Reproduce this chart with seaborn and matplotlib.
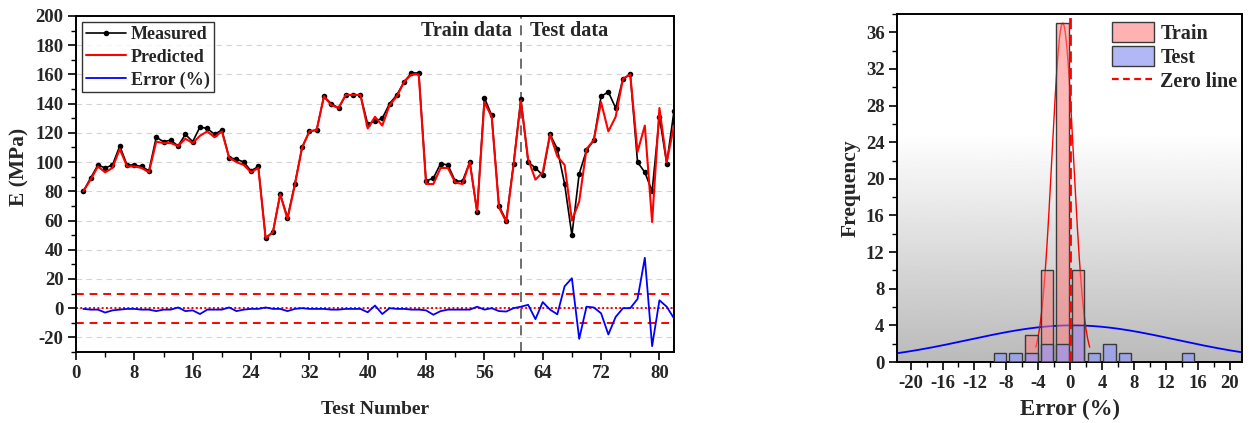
import numpy as np
import pandas as pd
import matplotlib
matplotlib.use("Agg")
import matplotlib.pyplot as plt
import seaborn as sns
from matplotlib.lines import Line2D
from matplotlib.patches import Patch
from matplotlib.ticker import MultipleLocator

sns.set_theme(style="white")
plt.rcParams['font.family'] = ['Liberation Serif', 'DejaVu Serif']
plt.rcParams['font.weight'] = 'bold'
plt.rcParams['axes.labelweight'] = 'bold'
plt.rcParams['axes.unicode_minus'] = False

# ---- test-by-test results -------------------------------------------------
test_number = list(range(1, 83))
measured = [80, 89, 98, 96, 98, 111, 98, 98, 97, 94,
            117, 114, 115, 111, 119, 114, 124, 123, 119, 122,
            103, 102, 100, 94, 97, 48, 52, 78, 62, 85,
            110, 121, 122, 145, 140, 137, 146, 146, 146, 126,
            128, 130, 140, 146, 155, 161, 161, 87, 89, 99,
            98, 87, 87, 100, 66, 144, 132, 70, 60, 99,
            143, 100, 96, 91, 119, 109, 85, 50, 92, 108,
            115, 145, 148, 137, 157, 160, 100, 93, 80, 131,
            99, 135]
predicted = [80, 88, 97, 93, 96, 109, 97, 97, 96, 93,
             114, 113, 113, 111, 116, 113, 118, 121, 117, 121,
             103, 100, 98, 93, 96, 48, 52, 78, 61, 84,
             110, 121, 122, 145, 139, 137, 146, 146, 146, 123,
             131, 125, 139, 145, 155, 160, 160, 85, 85, 96,
             96, 86, 85, 100, 66, 141, 131, 69, 59, 98,
             142, 102, 88, 93, 119, 104, 98, 60, 73, 109,
             115, 141, 121, 131, 157, 160, 107, 125, 59, 137,
             100, 125]
error_pct = [-0.5, -1, -1, -3, -1.5, -1, -0.5, -0.5, -1, -1,
             -2, -1, -1, 0.5, -2, -1.5, -4, -1, -1, -1,
             0.5, -2, -1, -0.5, -0.5, 0.5, -0.5, -0.5, -2, -0.5,
             0, -0.5, -0.5, -0.5, -1, -1, -0.5, -0.5, -0.5, -2.8,
             1.8, -4, 0, -0.5, -0.5, -1, -1, -1.5, -4.5, -2,
             -1, -1, -1, -1, 1, -1, 0, -2, -2.3, 0,
             1, 2.3, -7.5, 4.2, -1, -4.2, 15, 20.5, -21, 1,
             0.5, -3.5, -18, -6, 0, 0, 6.3, 34.5, -26, 5.4,
             1, -7]
split_at = 61          # first test-set sample
error_band = 10        # +/- tolerance lines (%)

# ---- error histogram ------------------------------------------------------
bin_centers = [-8.8, -6.84, -4.88, -2.92, -0.96, 1.0, 2.96, 4.92, 6.88,
               8.84, 10.8, 12.76, 14.72]
train_counts = [0, 0, 3, 10, 37, 10, 0, 0, 0, 0, 0, 0, 0]
test_counts = [1, 1, 1, 2, 2, 4, 1, 2, 1, 0, 0, 0, 1]
bin_width = 1.96
train_fit = {"mean": -0.95, "sd": 1.35}
test_fit = {"mean": 0.3, "sd": 13.0}

df = pd.DataFrame({"n": test_number, "Measured": measured,
                   "Predicted": predicted, "Error": error_pct})

W, H = 1249, 423
fig = plt.figure(figsize=(W / 100, H / 100), dpi=100)
fig.patch.set_facecolor("white")

# ================= left: measured vs predicted ============================
ax = fig.add_axes([76 / W, 1 - 352 / H, 598 / W, 336 / H])
ax.set_facecolor("white")
ax.yaxis.grid(True, linestyle=(0, (5, 4)), color="#d4d4d4", linewidth=0.8)
ax.set_axisbelow(True)

for lvl, ls in [(error_band, (0, (4, 3))), (-error_band, (0, (4, 3))), (0, (0, (1, 1.2)))]:
    ax.axhline(lvl, color="red", linestyle=ls, linewidth=1.4, zorder=2)

sns.lineplot(data=df, x="n", y="Measured", ax=ax, color="black", linewidth=1.2,
             marker="o", markersize=4, markeredgewidth=0, zorder=3)
sns.lineplot(data=df, x="n", y="Predicted", ax=ax, color="red", linewidth=1.5, zorder=4)
sns.lineplot(data=df, x="n", y="Error", ax=ax, color="blue", linewidth=1.3, zorder=4)

ax.axvline(split_at, color="#555555", linestyle=(0, (6, 4)), linewidth=1.2, zorder=1)
ax.text(split_at - 1.2, 190, "Train data", ha="right", va="center",
        fontsize=14.5, fontweight="bold")
ax.text(split_at + 1.3, 190, "Test data", ha="left", va="center",
        fontsize=14.5, fontweight="bold")

ax.set_xlim(0, 82)
ax.set_ylim(-30, 200)
ax.xaxis.set_major_locator(MultipleLocator(8))
ax.xaxis.set_minor_locator(MultipleLocator(4))
ax.yaxis.set_major_locator(MultipleLocator(20))
ax.yaxis.set_minor_locator(MultipleLocator(10))
ax.set_yticks(np.arange(-20, 201, 20))
ax.set_xlabel("Test Number", fontsize=14, fontweight="bold", labelpad=14)
ax.set_ylabel("E (MPa)", fontsize=15.5, fontweight="bold")
ax.yaxis.set_label_coords(-0.078, 0.55)

handles = [Line2D([], [], color="black", lw=1.2, marker="o", ms=4, mew=0),
           Line2D([], [], color="red", lw=1.5),
           Line2D([], [], color="blue", lw=1.3)]
leg = ax.legend(handles, ["Measured", "Predicted", "Error (%)"], loc="upper left",
                bbox_to_anchor=(0.0, 1.0), frameon=True, fancybox=False,
                prop={"size": 13, "weight": "bold"}, handlelength=2.2,
                handletextpad=0.3, borderpad=0.2, labelspacing=0.32,
                borderaxespad=0.35, numpoints=1)
leg.get_frame().set_edgecolor("black")
leg.get_frame().set_linewidth(1.0)

# ================= right: error distribution ==============================
ax2 = fig.add_axes([897 / W, 1 - 362 / H, 345 / W, 348 / H])
xmin, xmax, ymax = -21.7, 21.5, 38
ys = np.linspace(ymax, 0, 300)
shade = 1 - 0.27 * np.clip((25 - ys) / 25, 0, 1)
ax2.imshow(np.repeat(shade[:, None], 2, axis=1), cmap="gray", vmin=0, vmax=1,
           extent=[xmin, xmax, 0, ymax], aspect="auto", zorder=0)

edges = list(np.array(bin_centers) - bin_width / 2) + [bin_centers[-1] + bin_width / 2]


def fitted_curve(fit, peak):
    x = np.linspace(fit["mean"] - 2.5 * fit["sd"], fit["mean"] + 2.5 * fit["sd"], 400)
    return x, peak * np.exp(-0.5 * ((x - fit["mean"]) / fit["sd"]) ** 2)


tx, ty = fitted_curve(test_fit, max(test_counts))
rx, ry = fitted_curve(train_fit, max(train_counts))
sns.lineplot(x=tx, y=ty, ax=ax2, color="blue", linewidth=1.3, zorder=1)
sns.lineplot(x=rx, y=ry, ax=ax2, color="red", linewidth=1.0, zorder=1)

sns.histplot(x=bin_centers, weights=train_counts, bins=edges, shrink=0.79, ax=ax2,
             color="#ff7f7f", alpha=0.55, edgecolor="#3a3a3a", linewidth=1.0, zorder=2)
sns.histplot(x=bin_centers, weights=test_counts, bins=edges, shrink=0.79, ax=ax2,
             color="#8c96ff", alpha=0.6, edgecolor="#3a3a3a", linewidth=1.0, zorder=3)
ax2.axvline(0, color="red", linestyle=(0, (4, 2)), linewidth=2.0, zorder=5)

ax2.set_xlim(xmin, xmax)
ax2.set_ylim(0, ymax)
ax2.xaxis.set_major_locator(MultipleLocator(4))
ax2.xaxis.set_minor_locator(MultipleLocator(2))
ax2.yaxis.set_major_locator(MultipleLocator(4))
ax2.yaxis.set_minor_locator(MultipleLocator(2))
ax2.set_xlabel("Error (%)", fontsize=16.5, fontweight="bold", labelpad=5)
ax2.set_ylabel("Frequency", fontsize=15.5, fontweight="bold", labelpad=4)

h2 = [Patch(facecolor="#ffb2b2", edgecolor="#3a3a3a", linewidth=1.0),
      Patch(facecolor="#b2b8f5", edgecolor="#3a3a3a", linewidth=1.0),
      Line2D([], [], color="red", linestyle=(0, (3, 2)), linewidth=1.6)]
ax2.legend(h2, ["Train", "Test", "Zero line"], loc="upper right", frameon=False,
           bbox_to_anchor=(1.01, 1.0),
           prop={"size": 14.5, "weight": "bold"}, handlelength=2.1, handleheight=1.15,
           handletextpad=0.3, labelspacing=0.12, borderaxespad=0.2, borderpad=0.2)

for a in (ax, ax2):
    for sp in a.spines.values():
        sp.set_color("black")
        sp.set_linewidth(1.4)
        sp.set_visible(True)
    a.tick_params(which="major", direction="out", length=6, width=1.2,
                  labelsize=13.5, color="black", bottom=True, left=True, pad=3)
    a.tick_params(which="minor", direction="out", length=3.5, width=1.0,
                  color="black", bottom=True, left=True)
    for lab in a.get_xticklabels() + a.get_yticklabels():
        lab.set_fontweight("bold")

fig.savefig("out.png", dpi=100, facecolor="white")
